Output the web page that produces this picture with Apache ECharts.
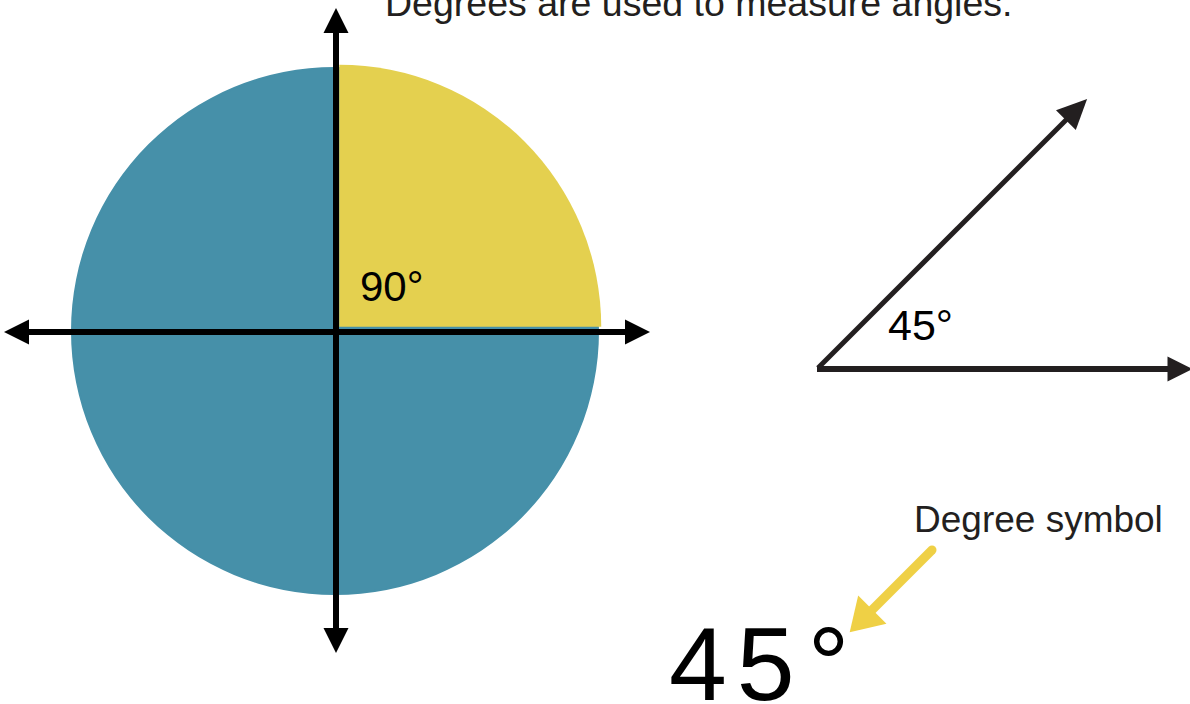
<!DOCTYPE html>
<html><head><meta charset="utf-8">
<script src="https://cdn.jsdelivr.net/npm/echarts@6/dist/echarts.min.js"></script>
<style>html,body{margin:0;padding:0;background:#fff;overflow:hidden}#c{width:1190px;height:704px}</style>
</head><body><div id="c"></div>
<script>
// ---- data ----
const sliceNames = ['90° quadrant', 'Rest of circle'];
const sliceValues = [25, 75];
const sliceColors = ['#e4d04f', '#4690a9'];
// line segments (data coordinates = pixel grid 0..1190 x 0..704)
const circleAxisLines = [
  [[16.5, 332], [637.5, 332]],
  [[336, 20.5], [336, 640.5]]
];
const angleRays = [
  [[817, 369], [1180, 369]],
  [[818, 368], [1076.5, 109.5]]
];
const pointerLine = [[[932, 550], [861, 621]]];
const textLabels = ['Degrees are used to measure angles.', '90°', '45°', 'Degree symbol', '45°'];

// ---- chart ----
const FONT = '"Liberation Sans", Arial, Helvetica, sans-serif';
const chart = echarts.init(document.getElementById('c'), null, { renderer: 'svg' });
const big = textLabels[4];
const bigRich = big.split('').map((ch, i) => (i < big.length - 1 ? '{d|' + ch + '}' : '{s|' + ch + '}')).join('');

const option = {
  animation: false,
  backgroundColor: '#ffffff',
  grid: { left: 0, right: 0, top: 0, bottom: 0 },
  xAxis: { type: 'value', min: 0, max: 1190, show: false },
  yAxis: { type: 'value', min: 0, max: 704, inverse: true, show: false },
  series: [
    {
      type: 'pie', center: [335, 331], radius: 264, startAngle: 90, clockwise: true,
      silent: true, label: { show: false }, labelLine: { show: false }, emphasis: { disabled: true },
      itemStyle: { borderWidth: 0, color: sliceColors[1] },
      data: sliceValues.map((v, i) => ({ name: sliceNames[i], value: v }))
    },
    {
      type: 'pie', center: [335, 331], radius: 262, startAngle: 90, clockwise: true,
      selectedMode: 'single', selectedOffset: 6,
      silent: true, label: { show: false }, labelLine: { show: false }, emphasis: { disabled: true },
      itemStyle: { borderWidth: 0 },
      data: sliceValues.map((v, i) => ({
        name: sliceNames[i], value: v, selected: i === 0,
        itemStyle: { color: sliceColors[i], borderWidth: 0 },
        select: { itemStyle: { color: sliceColors[i], borderWidth: 0 } }
      }))
    },
    {
      type: 'lines', coordinateSystem: 'cartesian2d', silent: true, z: 5,
      symbol: ['triangle', 'triangle'], symbolSize: [[25, 25], [25, 25]],
      lineStyle: { color: '#000000', width: 6, opacity: 1, curveness: 0 },
      data: circleAxisLines.map(c => ({ coords: c }))
    },
    {
      type: 'lines', coordinateSystem: 'cartesian2d', silent: true, z: 5,
      lineStyle: { color: '#231f20', width: 6, opacity: 1, curveness: 0 },
      data: angleRays.map((c, i) => ({
        coords: c,
        symbol: ['none', 'triangle'],
        symbolSize: i === 0 ? [0, [25, 25]] : [0, [28, 30]],
        lineStyle: { width: i === 0 ? 6 : 5 }
      }))
    },
    {
      type: 'lines', coordinateSystem: 'cartesian2d', silent: true, z: 5,
      symbol: ['none', 'triangle'], symbolSize: [0, [40, 32]],
      lineStyle: { color: '#efd045', width: 9, opacity: 1, curveness: 0, cap: 'round' },
      data: pointerLine.map(c => ({ coords: c }))
    }
  ],
  graphic: {
    elements: [
      { type: 'text', x: 385, y: 3, z: 100, silent: true,
        style: { text: textLabels[0], fontSize: 37.5, fontFamily: FONT, fill: '#231f20', align: 'left', verticalAlign: 'middle' } },
      { type: 'text', x: 360, y: 286, z: 100, silent: true,
        style: { text: textLabels[1], fontSize: 42, fontFamily: FONT, fill: '#000000', align: 'left', verticalAlign: 'middle' } },
      { type: 'text', x: 888, y: 325, z: 100, silent: true,
        style: { text: textLabels[2], fontSize: 43, fontFamily: FONT, fill: '#000000', align: 'left', verticalAlign: 'middle' } },
      { type: 'text', x: 914, y: 519, z: 100, silent: true,
        style: { text: textLabels[3], fontSize: 37, fontFamily: FONT, fill: '#231f20', align: 'left', verticalAlign: 'middle' } },
      { type: 'text', x: 669, y: 664, z: 100, silent: true,
        style: {
          text: bigRich, fontSize: 104, fontFamily: FONT, fill: '#000000', align: 'left', verticalAlign: 'middle',
          rich: {
            d: { fontSize: 104, fontFamily: FONT, fill: '#000000', padding: [0, 10, 0, 0] },
            s: { fontSize: 104, fontFamily: FONT, fill: '#000000', padding: [0, 0, 0, 3] }
          }
        } }
    ]
  }
};
chart.setOption(option);
</script>
</body></html>
